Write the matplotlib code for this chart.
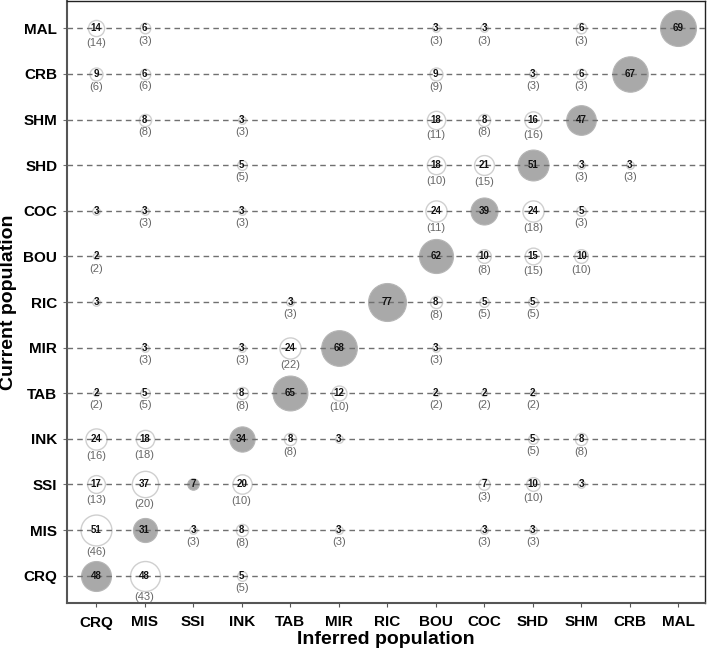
import matplotlib
matplotlib.use("Agg")
import matplotlib.pyplot as plt

pops = ["CRQ", "MIS", "SSI", "INK", "TAB", "MIR", "RIC", "BOU", "COC", "SHD", "SHM", "CRB", "MAL"]

# (current, inferred, count, count_in_parentheses or None)
cur = ["MAL"]*6 + ["CRB"]*6 + ["SHM"]*6 + ["SHD"]*6 + ["COC"]*7 + ["BOU"]*5 + ["RIC"]*6 \
    + ["MIR"]*5 + ["TAB"]*8 + ["INK"]*7 + ["SSI"]*7 + ["MIS"]*7 + ["CRQ"]*3
inf = ["CRQ", "MIS", "BOU", "COC", "SHM", "MAL",
       "CRQ", "MIS", "BOU", "SHD", "SHM", "CRB",
       "MIS", "INK", "BOU", "COC", "SHD", "SHM",
       "INK", "BOU", "COC", "SHD", "SHM", "CRB",
       "CRQ", "MIS", "INK", "BOU", "COC", "SHD", "SHM",
       "CRQ", "BOU", "COC", "SHD", "SHM",
       "CRQ", "TAB", "RIC", "BOU", "COC", "SHD",
       "MIS", "INK", "TAB", "MIR", "BOU",
       "CRQ", "MIS", "INK", "TAB", "MIR", "BOU", "COC", "SHD",
       "CRQ", "MIS", "INK", "TAB", "MIR", "SHD", "SHM",
       "CRQ", "MIS", "SSI", "INK", "COC", "SHD", "SHM",
       "CRQ", "MIS", "SSI", "INK", "MIR", "COC", "SHD",
       "CRQ", "MIS", "INK"]
counts = [14, 6, 3, 3, 6, 69,
          9, 6, 9, 3, 6, 67,
          8, 3, 18, 8, 16, 47,
          5, 18, 21, 51, 3, 3,
          3, 3, 3, 24, 39, 24, 5,
          2, 62, 10, 15, 10,
          3, 3, 77, 8, 5, 5,
          3, 3, 24, 68, 3,
          2, 5, 8, 65, 12, 2, 2, 2,
          24, 18, 34, 8, 3, 5, 8,
          17, 37, 7, 20, 7, 10, 3,
          51, 31, 3, 8, 3, 3, 3,
          48, 48, 5]
paren = [14, 3, 3, 3, 3, None,
         6, 6, 9, 3, 3, None,
         8, 3, 11, 8, 16, None,
         5, 10, 15, None, 3, 3,
         None, 3, 3, 11, None, 18, 3,
         2, None, 8, 15, 10,
         None, 3, None, 8, 5, 5,
         3, 3, 22, None, 3,
         2, 5, 8, None, 10, 2, 2, 2,
         16, 18, None, 8, None, 5, 8,
         13, 20, None, 10, 3, 10, None,
         46, None, 3, 8, 3, 3, 3,
         None, 43, 5]

plt.rcParams['font.family'] = ['Liberation Sans', 'DejaVu Sans']
fig = plt.figure(figsize=(7.09, 6.50), dpi=100)
ax = fig.add_axes([67/709, 1 - 603/650, (705-67)/709, (603-1)/650])

idx = {p: i for i, p in enumerate(pops)}
xs = [idx[p] for p in inf]
ys = [idx[p] for p in cur]
diag = [a == b for a, b in zip(cur, inf)]

for yy in range(len(pops)):
    ax.axhline(yy, color="#707070", lw=1.0, ls=(0, (4, 3)), zorder=3)

k = 9.7  # marker area (pt^2) per unit count
for x, y, c, d in zip(xs, ys, counts, diag):
    if d:
        ax.scatter(x, y, s=k*c, facecolor="#a9a9a9", edgecolor="#b5b5b5", lw=0.8, zorder=2)
    else:
        ax.scatter(x, y, s=k*c, facecolor="white", edgecolor="#cfcfcf", lw=1.0, zorder=2)

for x, y, c, p in zip(xs, ys, counts, paren):
    ax.text(x, y, str(c), ha="center", va="center", fontsize=7, fontweight="bold",
            color="#111111", zorder=5)
    if p is not None:
        r_pts = (k*c) ** 0.5 / 2
        off = max(r_pts + 4.8, 8.8)
        ax.annotate("(%d)" % p, (x, y), xytext=(0, -off), textcoords="offset points",
                    ha="center", va="center", fontsize=8, color="#666666", zorder=5)

ax.set_xlim(-0.6, 12.55)
ax.set_ylim(-0.6, 12.6)
ax.set_xticks(range(len(pops)))
ax.set_xticklabels(pops, fontsize=11, fontweight="bold")
ax.set_yticks(range(len(pops)))
ax.set_yticklabels(pops, fontsize=11, fontweight="bold")
ax.tick_params(axis="x", length=3, width=0.8, color="#555555", pad=6)
ax.tick_params(axis="y", length=3, width=0.8, color="#707070", pad=4)
ax.set_xlabel("Inferred population", fontsize=14, fontweight="bold", labelpad=1)
ax.set_ylabel("Current population", fontsize=14, fontweight="bold")
ax.yaxis.set_label_coords(-0.078, 0.5)
for side in ["left", "bottom"]:
    ax.spines[side].set_color("#555555")
    ax.spines[side].set_linewidth(1.5)
for side in ["top", "right"]:
    ax.spines[side].set_color("#222222")
    ax.spines[side].set_linewidth(1.0)

fig.savefig("out.png", dpi=100)
